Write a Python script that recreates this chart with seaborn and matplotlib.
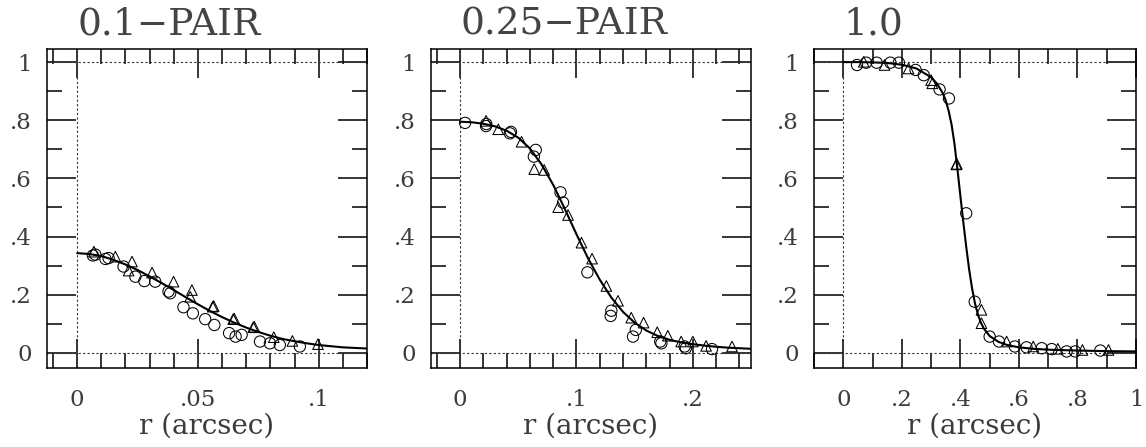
import matplotlib
matplotlib.use("Agg")
import matplotlib.pyplot as plt
import matplotlib.transforms as mtransforms
from matplotlib.ticker import MultipleLocator, NullFormatter
import seaborn as sns
import pandas as pd

# ---------------- data ----------------
titles = ["0.1\u2212PAIR", "0.25\u2212PAIR", "1.0"]

# panel 1 (0.1-PAIR)
p1_circ_x = [0.0065, 0.0075, 0.0117, 0.013, 0.0192, 0.0241, 0.0278, 0.0323, 0.0378, 0.0385,
             0.044, 0.0479, 0.053, 0.0568, 0.0629, 0.0656, 0.0681, 0.0757, 0.0798, 0.0839, 0.0922]
p1_circ_y = [0.335, 0.338, 0.323, 0.326, 0.297, 0.262, 0.247, 0.245, 0.211, 0.205,
             0.157, 0.136, 0.116, 0.096, 0.068, 0.056, 0.062, 0.039, 0.033, 0.027, 0.022]
p1_tri_x = [0.0069, 0.0158, 0.0227, 0.0213, 0.031, 0.0399, 0.0475, 0.0468, 0.0561, 0.0565,
            0.0646, 0.065, 0.0729, 0.0733, 0.0814, 0.0891, 0.0997]
p1_tri_y = [0.348, 0.331, 0.314, 0.283, 0.276, 0.245, 0.216, 0.193, 0.159, 0.161,
            0.116, 0.118, 0.088, 0.090, 0.054, 0.041, 0.030]
p1_fit_x = [0.0, 0.005, 0.01, 0.015, 0.02, 0.025, 0.03, 0.035, 0.04, 0.045, 0.05, 0.055, 0.06,
            0.065, 0.07, 0.075, 0.08, 0.085, 0.09, 0.095, 0.1, 0.105, 0.11, 0.115, 0.12]
p1_fit_y = [0.343, 0.340, 0.333, 0.320, 0.304, 0.285, 0.263, 0.240, 0.216, 0.191, 0.167, 0.144,
            0.123, 0.104, 0.087, 0.072, 0.059, 0.048, 0.040, 0.033, 0.027, 0.023, 0.019, 0.017, 0.015]

# panel 2 (0.25-PAIR)
p2_circ_x = [0.0043, 0.0223, 0.0225, 0.0428, 0.0437, 0.065, 0.0634, 0.0863, 0.0885, 0.1094,
             0.130, 0.1294, 0.1486, 0.151, 0.172, 0.173, 0.193, 0.194, 0.2165]
p2_circ_y = [0.791, 0.780, 0.787, 0.755, 0.760, 0.698, 0.675, 0.552, 0.517, 0.277,
             0.145, 0.127, 0.056, 0.079, 0.039, 0.033, 0.022, 0.016, 0.013]
p2_tri_x = [0.0223, 0.0328, 0.0528, 0.0637, 0.0723, 0.0843, 0.0928, 0.1043, 0.1134, 0.1257,
            0.1357, 0.1471, 0.1577, 0.1694, 0.1785, 0.19, 0.2, 0.2114, 0.2337]
p2_tri_y = [0.798, 0.769, 0.726, 0.632, 0.629, 0.501, 0.474, 0.379, 0.324, 0.230,
            0.179, 0.121, 0.104, 0.071, 0.059, 0.039, 0.039, 0.024, 0.022]
p2_fit_x = [0.0, 0.01, 0.02, 0.03, 0.04, 0.05, 0.06, 0.07, 0.08, 0.09, 0.10, 0.11, 0.12, 0.13,
            0.14, 0.15, 0.16, 0.17, 0.18, 0.19, 0.20, 0.21, 0.22, 0.23, 0.24, 0.25]
p2_fit_y = [0.795, 0.793, 0.788, 0.779, 0.764, 0.740, 0.703, 0.648, 0.578, 0.495, 0.408, 0.325,
            0.252, 0.190, 0.141, 0.104, 0.077, 0.058, 0.045, 0.036, 0.030, 0.025, 0.021, 0.018,
            0.016, 0.014]

# panel 3 (1.0)
p3_circ_x = [0.047, 0.078, 0.114, 0.161, 0.19, 0.247, 0.275, 0.329, 0.361, 0.42, 0.449, 0.50,
             0.532, 0.586, 0.626, 0.678, 0.712, 0.763, 0.792, 0.878]
p3_circ_y = [0.990, 0.998, 0.998, 0.998, 0.998, 0.973, 0.955, 0.906, 0.875, 0.48, 0.176, 0.056,
             0.039, 0.022, 0.019, 0.016, 0.013, 0.005, 0.005, 0.008]
p3_tri_x = [0.07, 0.141, 0.223, 0.30, 0.304, 0.386, 0.388, 0.472, 0.472, 0.558, 0.649, 0.733,
            0.817, 0.906]
p3_tri_y = [1.001, 0.990, 0.978, 0.938, 0.927, 0.648, 0.650, 0.148, 0.102, 0.039, 0.022, 0.014,
            0.010, 0.010]
p3_fit_x = [0.0, 0.05, 0.1, 0.15, 0.2, 0.25, 0.3, 0.32, 0.34, 0.35, 0.36, 0.37, 0.38, 0.39, 0.40,
            0.41, 0.42, 0.43, 0.44, 0.45, 0.46, 0.47, 0.48, 0.50, 0.53, 0.56, 0.60, 0.65, 0.70,
            0.80, 0.90, 1.0]
p3_fit_y = [1.0, 1.0, 0.999, 0.997, 0.991, 0.978, 0.948, 0.926, 0.893, 0.868, 0.832, 0.785, 0.718,
            0.632, 0.540, 0.450, 0.365, 0.287, 0.222, 0.170, 0.132, 0.104, 0.084, 0.058, 0.038,
            0.027, 0.019, 0.014, 0.011, 0.008, 0.006, 0.005]

xlims = [(-0.0125, 0.12), (-0.025, 0.25), (-0.1, 1.0)]
x_major = [[0, 0.05, 0.1], [0, 0.1, 0.2], [0, 0.2, 0.4, 0.6, 0.8, 1.0]]
x_major_labels = [["0", ".05", ".1"], ["0", ".1", ".2"], ["0", ".2", ".4", ".6", ".8", "1"]]
x_minor_step = [0.01, 0.02, 0.1]
y_major = [0, 0.2, 0.4, 0.6, 0.8, 1.0]
y_major_labels = ["0", ".2", ".4", ".6", ".8", "1"]
xlabel = "r (arcsec)"

panels = [
    (p1_circ_x, p1_circ_y, p1_tri_x, p1_tri_y, p1_fit_x, p1_fit_y),
    (p2_circ_x, p2_circ_y, p2_tri_x, p2_tri_y, p2_fit_x, p2_fit_y),
    (p3_circ_x, p3_circ_y, p3_tri_x, p3_tri_y, p3_fit_x, p3_fit_y),
]

# ---------------- style ----------------
sns.set_theme(style="ticks")
plt.rcParams["font.family"] = ["DejaVu Serif", "DejaVu Sans"]
plt.rcParams["axes.linewidth"] = 1.1

fig = plt.figure(figsize=(11.46, 4.47), dpi=100)
lefts = [47 / 1146, 431 / 1146, 814 / 1146]
widths = [320 / 1146, 320 / 1146, 322 / 1146]
bottom = 1 - 368 / 447
height = 319 / 447
text_color = "#3c3c3c"

for i, (cx, cy, tx, ty, fx, fy) in enumerate(panels):
    ax = fig.add_axes([lefts[i], bottom, widths[i], height])
    circ = pd.DataFrame({"r": cx, "v": cy})
    tri = pd.DataFrame({"r": tx, "v": ty})
    fit = pd.DataFrame({"r": fx, "v": fy})

    # reference dotted lines
    ax.axhline(0, color="#333333", lw=0.8, ls=(0, (2, 2)), zorder=1)
    ax.axhline(1, color="#333333", lw=0.8, ls=(0, (2, 2)), zorder=1)
    ax.axvline(0, color="#333333", lw=0.8, ls=(0, (2, 2)), zorder=1)

    sns.lineplot(data=fit, x="r", y="v", ax=ax, color="black", lw=1.5,
                 sort=False, estimator=None, zorder=3)
    sns.scatterplot(data=circ, x="r", y="v", ax=ax, marker="o", s=66,
                    facecolor="none", edgecolor="black", linewidth=0.75, zorder=4)
    sns.scatterplot(data=tri, x="r", y="v", ax=ax, marker="^", s=58,
                    facecolor="none", edgecolor="black", linewidth=0.75, zorder=4)

    ax.set_xlim(*xlims[i])
    ax.set_ylim(-0.052, 1.045)
    ax.set_xticks(x_major[i])
    ax.set_xticklabels(x_major_labels[i])
    ax.xaxis.set_minor_locator(MultipleLocator(x_minor_step[i]))
    ax.set_yticks(y_major)
    ax.set_yticklabels(y_major_labels)
    ax.yaxis.set_minor_locator(MultipleLocator(0.1))
    ax.xaxis.set_minor_formatter(NullFormatter())
    ax.yaxis.set_minor_formatter(NullFormatter())

    ax.tick_params(which="both", direction="in", top=True, right=True,
                   color="black", labelsize=16.5, labelcolor=text_color)
    ax.tick_params(which="major", length=21, width=1.1)
    ax.tick_params(which="minor", length=10.5, width=1.1)
    ax.tick_params(axis="x", which="major", pad=15)
    ax.tick_params(axis="y", which="major", pad=11)

    ax.set_xlabel(xlabel, fontsize=20, color=text_color, labelpad=1)
    ax.set_ylabel("")
    for sp in ax.spines.values():
        sp.set_color("black")
        sp.set_linewidth(1.1)

    trans = mtransforms.blended_transform_factory(ax.transData, ax.transAxes)
    ax.text(0, 1.044, titles[i], transform=trans, ha="left", va="baseline",
            fontsize=27, color="#444444")

fig.savefig("out.png", dpi=100)
